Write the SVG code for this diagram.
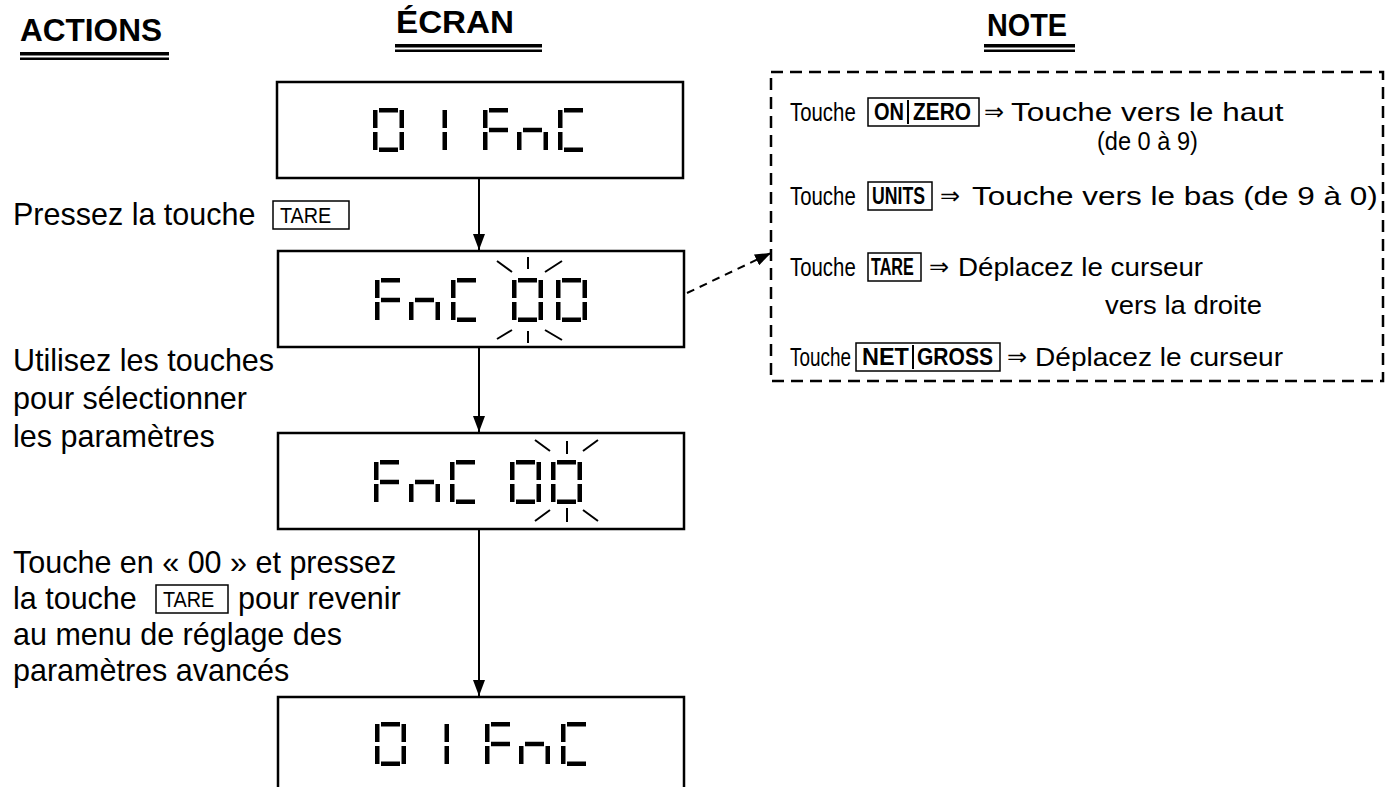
<svg xmlns="http://www.w3.org/2000/svg" xmlns:xlink="http://www.w3.org/1999/xlink" width="1391" height="787" viewBox="0 0 1391 787">
  <style>
    .hdr { font-family: "Liberation Sans", Arial, sans-serif; font-weight: bold; font-size: 31px; fill: #000; }
    .txt { font-family: "Liberation Sans", Arial, sans-serif; font-size: 30.5px; fill: #000; }
    .note { font-family: "Liberation Sans", Arial, sans-serif; font-size: 26px; fill: #000; }
    .arr { font-family: "DejaVu Sans", "Liberation Sans", sans-serif; font-size: 24px; fill: #000; }
    .key { font-family: "Liberation Sans", Arial, sans-serif; font-size: 22px; fill: #000; }
    .keyb { font-family: "Liberation Sans", Arial, sans-serif; font-size: 23px; font-weight: bold; fill: #000; }
    .disp { fill: #fff; stroke: #000; stroke-width: 2.5; }
    .keybox { fill: none; stroke: #000; stroke-width: 1.5; }
    .flow { stroke: #000; stroke-width: 2; fill: none; marker-end: url(#ah); }
    .dash { stroke: #000; stroke-width: 2; fill: none; stroke-dasharray: 8 6; marker-end: url(#ah); }
    .blink { stroke: #000; stroke-width: 2; fill: none; }
    .seg { fill: #000; }
  </style>
  <defs>
    <marker id="ah" viewBox="0 0 16 12" refX="16" refY="6" markerWidth="16" markerHeight="12" markerUnits="userSpaceOnUse" orient="auto">
      <path d="M0,0 L16,6 L0,12 Z" fill="#000"/>
    </marker>
    <!-- seven-segment pieces, digit cell 31 x 44 -->
    <rect id="sa" class="seg" x="6" y="0" width="19" height="4.5"/>
    <rect id="sg" class="seg" x="6" y="19.75" width="19" height="4.5"/>
    <rect id="sd" class="seg" x="6" y="39.5" width="19" height="4.5"/>
    <rect id="sf" class="seg" x="0" y="2" width="4.5" height="18"/>
    <rect id="se" class="seg" x="0" y="24" width="4.5" height="18"/>
    <rect id="sb" class="seg" x="26.5" y="2" width="4.5" height="18"/>
    <rect id="sc" class="seg" x="26.5" y="24" width="4.5" height="18"/>
    <g id="d0"><use xlink:href="#sa"/><use xlink:href="#sb"/><use xlink:href="#sc"/><use xlink:href="#sd"/><use xlink:href="#se"/><use xlink:href="#sf"/></g>
    <g id="d1"><use xlink:href="#sb"/><use xlink:href="#sc"/></g>
    <g id="dF"><use xlink:href="#sa"/><use xlink:href="#sf"/><use xlink:href="#se"/><use xlink:href="#sg"/></g>
    <g id="dn"><use xlink:href="#se"/><use xlink:href="#sg"/><use xlink:href="#sc"/></g>
    <g id="dC"><use xlink:href="#sa"/><use xlink:href="#sf"/><use xlink:href="#se"/><use xlink:href="#sd"/></g>
  </defs>

  <rect width="1391" height="787" fill="#fff"/>

  <!-- column headers -->
  <g id="headers">
    <text class="hdr" x="20" y="41" textLength="142" lengthAdjust="spacingAndGlyphs">ACTIONS</text>
    <rect x="20" y="52" width="149" height="3.5"/>
    <rect x="20" y="57.5" width="149" height="2.5"/>
    <text class="hdr" x="396" y="33" textLength="118" lengthAdjust="spacingAndGlyphs">ÉCRAN</text>
    <rect x="395" y="44" width="147" height="3.5"/>
    <rect x="395" y="49.5" width="147" height="2.5"/>
    <text class="hdr" x="987" y="36" textLength="80" lengthAdjust="spacingAndGlyphs">NOTE</text>
    <rect x="984" y="44" width="91" height="3.5"/>
    <rect x="984" y="49.5" width="91" height="2.5"/>
  </g>

  <!-- display 1: 01 FnC -->
  <g id="display1">
    <rect class="disp" x="277" y="82" width="406" height="96"/>
    <use xlink:href="#d0" x="373" y="108"/>
    <use xlink:href="#d1" x="416" y="108"/>
    <use xlink:href="#dF" x="483" y="108"/>
    <use xlink:href="#dn" x="517" y="108"/>
    <use xlink:href="#dC" x="558" y="108"/>
  </g>

  <!-- display 2: FnC 00, first zero blinking -->
  <g id="display2">
    <rect class="disp" x="278" y="251" width="406" height="96"/>
    <use xlink:href="#dF" x="375" y="278"/>
    <use xlink:href="#dn" x="409" y="278"/>
    <use xlink:href="#dC" x="451" y="278"/>
    <use xlink:href="#d0" x="512" y="278"/>
    <use xlink:href="#d0" x="556" y="278"/>
    <path class="blink" d="M497,261 L512,272 M528,257 L528,269 M562,261 L545,272 M497,339 L512,330 M528,331 L528,343 M562,340 L545,330"/>
  </g>

  <!-- display 3: FnC 00, second zero blinking -->
  <g id="display3">
    <rect class="disp" x="278" y="433" width="406" height="96"/>
    <use xlink:href="#dF" x="374" y="460"/>
    <use xlink:href="#dn" x="409" y="460"/>
    <use xlink:href="#dC" x="450" y="460"/>
    <use xlink:href="#d0" x="510" y="460"/>
    <use xlink:href="#d0" x="551" y="460"/>
    <path class="blink" d="M535,440 L550,451 M567,441 L567,454 M598,440 L583,451 M535,521 L550,510 M567,508 L567,522 M598,521 L583,510"/>
  </g>

  <!-- display 4: back to 01 FnC -->
  <g id="display4">
    <rect class="disp" x="278" y="697" width="406" height="100"/>
    <use xlink:href="#d0" x="375" y="722"/>
    <use xlink:href="#d1" x="418" y="722"/>
    <use xlink:href="#dF" x="485" y="722"/>
    <use xlink:href="#dn" x="519" y="722"/>
    <use xlink:href="#dC" x="561" y="722"/>
  </g>

  <!-- action texts -->
  <g id="action1">
    <text class="txt" x="13" y="225">Pressez la touche</text>
    <rect class="keybox" x="273" y="201" width="76" height="28"/>
    <text class="key" transform="translate(280 223) scale(0.9 1)">TARE</text>
  </g>
  <g id="action2">
    <text class="txt" x="13" y="371">Utilisez les touches</text>
    <text class="txt" x="13" y="409">pour sélectionner</text>
    <text class="txt" x="13" y="447">les paramètres</text>
  </g>
  <g id="action3">
    <text class="txt" x="13" y="573">Touche en « 00 » et pressez</text>
    <text class="txt" x="13" y="609">la touche</text>
    <rect class="keybox" x="156" y="585" width="72" height="28"/>
    <text class="key" transform="translate(163 607) scale(0.9 1)">TARE</text>
    <text class="txt" x="238" y="609">pour revenir</text>
    <text class="txt" x="13" y="645">au menu de réglage des</text>
    <text class="txt" x="13" y="681">paramètres avancés</text>
  </g>

  <!-- note panel -->
  <g id="note">
    <rect x="771" y="72" width="612" height="309" fill="none" stroke="#000" stroke-width="2.5" stroke-dasharray="12 7"/>

    <text class="note" transform="translate(790 121) scale(0.784 1)">Touche</text>
    <rect class="keybox" x="868" y="98" width="111" height="28"/>
    <line x1="908" y1="100" x2="908" y2="124" stroke="#000" stroke-width="2"/>
    <text class="keyb" transform="translate(874 120) scale(0.87 1)">ON</text>
    <text class="keyb" transform="translate(913 120) scale(0.908 1)">ZERO</text>
    <text class="arr" x="984" y="120">⇒</text>
    <text class="note" transform="translate(1011 121) scale(1.209 1)">Touche vers le haut</text>
    <text class="note" transform="translate(1097 150) scale(0.907 1)">(de 0 à 9)</text>

    <text class="note" transform="translate(790 205) scale(0.784 1)">Touche</text>
    <rect class="keybox" x="868" y="182" width="64" height="28"/>
    <text class="keyb" transform="translate(872 204) scale(0.768 1)">UNITS</text>
    <text class="arr" x="940" y="204">⇒</text>
    <text class="note" transform="translate(972 205) scale(1.211 1)">Touche vers le bas (de 9 à 0)</text>

    <text class="note" transform="translate(790 276) scale(0.784 1)">Touche</text>
    <rect class="keybox" x="868" y="253" width="53" height="28"/>
    <text class="keyb" transform="translate(871 275) scale(0.703 1)">TARE</text>
    <text class="arr" x="929" y="275">⇒</text>
    <text class="note" transform="translate(958 276) scale(1.067 1)">Déplacez le curseur</text>
    <text class="note" transform="translate(1105 314) scale(1.055 1)">vers la droite</text>

    <text class="note" transform="translate(790 366) scale(0.727 1)">Touche</text>
    <rect class="keybox" x="856" y="343" width="144" height="28"/>
    <line x1="913" y1="345" x2="913" y2="369" stroke="#000" stroke-width="2"/>
    <text class="keyb" transform="translate(862 365) scale(1.02 1)">NET</text>
    <text class="keyb" transform="translate(917 365) scale(0.915 1)">GROSS</text>
    <text class="arr" x="1007" y="365">⇒</text>
    <text class="note" transform="translate(1035 366) scale(1.08 1)">Déplacez le curseur</text>
  </g>

  <!-- connectors -->
  <g id="connectors">
    <line class="flow" x1="479" y1="178" x2="479" y2="250"/>
    <line class="flow" x1="479" y1="347" x2="479" y2="432"/>
    <line class="flow" x1="479" y1="529" x2="479" y2="696"/>
    <line class="dash" x1="687" y1="293" x2="771" y2="253"/>
  </g>
</svg>
